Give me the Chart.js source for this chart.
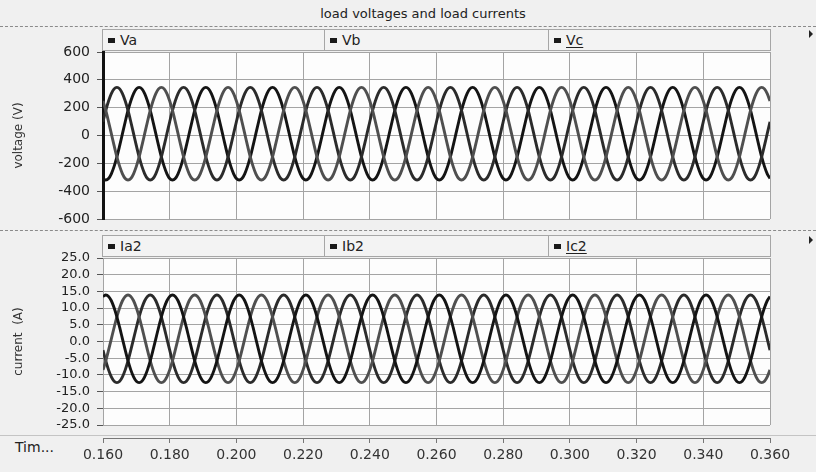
<!DOCTYPE html>
<html>
<head>
    <meta charset="utf-8">
    <title>load voltages and load currents</title>
    <script src="https://cdn.jsdelivr.net/npm/chart.js@4"></script>
    <style>
        body {
            margin: 0;
            background: #f0f0f0;
            font-family: "DejaVu Sans", sans-serif;
            color: #222;
        }
        #scope {
            position: relative;
            width: 816px;
            height: 472px;
            overflow: hidden;
        }
        .abs { position: absolute; }
        .title {
            left: 423px;
            top: 6px;
            transform: translateX(-50%);
            font-size: 13px;
            white-space: nowrap;
        }
        .dash {
            left: 0;
            width: 816px;
            height: 0;
            border-top: 1px dashed #8a8a8a;
        }
        .legend {
            left: 102px;
            width: 667px;
            height: 20px;
            border: 1px solid #a6a6a6;
            background: #f3f3f3;
            display: flex;
            box-sizing: content-box;
        }
        .legend div {
            position: relative;
            flex: 0 0 auto;
            height: 20px;
            border-right: 1px solid #a6a6a6;
            font-size: 14px;
            line-height: 20px;
            padding-left: 17px;
            box-sizing: border-box;
        }
        .legend div:last-child { border-right: none; }
        .legend div::before {
            content: "";
            position: absolute;
            left: 5px;
            top: 8px;
            width: 7px;
            height: 5px;
            background: #1a1a1a;
        }
        .legend u { text-decoration-thickness: 1px; text-underline-offset: 2px; }
        .arrow {
            left: 809px;
            width: 0;
            height: 0;
            border-left: 4px solid #222;
            border-top: 4px solid transparent;
            border-bottom: 4px solid transparent;
        }
        canvas { position: absolute; left: 0; }
    </style>
</head>
<body>
<div id="scope">
    <div class="abs title">load voltages and load currents</div>
    <div class="abs dash" style="top:26px"></div>

    <div class="abs legend" style="top:29px">
        <div style="width:222px">Va</div>
        <div style="width:224px">Vb</div>
        <div style="width:221px"><u>Vc</u></div>
    </div>
    <div class="abs arrow" style="top:30px"></div>
    <canvas id="voltageChart" style="top:44px" width="816" height="184"></canvas>

    <div class="abs dash" style="top:230px"></div>

    <div class="abs legend" style="top:235px">
        <div style="width:222px">Ia2</div>
        <div style="width:224px">Ib2</div>
        <div style="width:221px"><u>Ic2</u></div>
    </div>
    <div class="abs arrow" style="top:236px"></div>
    <canvas id="currentChart" style="top:250px" width="816" height="184"></canvas>

    <div class="abs" style="left:0;top:435px;width:816px;border-top:1px solid #c4c4c4"></div>
    <div class="abs" style="left:15px;top:439px;font-size:14px">Tim...</div>
    <canvas id="timeAxis" style="top:436px" width="816" height="36"></canvas>
</div>

<script>
    // time axis (s)
    const timeStart = 0.16;
    const timeEnd = 0.36;
    const timeStep = 0.02;
    const samplesPerCycle = 24;   // one 50 Hz cycle, 15 deg per sample
    const cycleCount = 10;

    // one recorded cycle, starting at the positive peak
    const voltageCycle = [346, 335, 301, 248, 180, 99, 13, -73, -154, -222, -275, -309,
                          -320, -309, -275, -222, -154, -73, 13, 99, 180, 248, 301, 335];
    const currentCycle = [13.9, 13.5, 12.2, 10.1, 7.4, 4.2, 0.8, -2.6, -5.8, -8.5, -10.6, -11.9,
                          -12.3, -11.9, -10.6, -8.5, -5.8, -2.6, 0.8, 4.2, 7.4, 10.1, 12.2, 13.5];

    // position in the cycle table at t = 0.160 s
    const voltageNames = ['Va', 'Vb', 'Vc'];
    const voltageStart = [3, 19, 11];
    const voltageColors = ['#4f4f4f', '#2b2b2b', '#141414'];

    const currentNames = ['Ia2', 'Ib2', 'Ic2'];
    const currentStart = [23, 15, 7];
    const currentColors = ['#141414', '#4f4f4f', '#2b2b2b'];

    const voltageTicks = { min: -600, max: 600, step: 200 };
    const currentTicks = { min: -25, max: 25, step: 5 };

    const gridColor = '#a4a4a4';
    const tickFont = { family: 'DejaVu Sans', size: 14 };

    function traceFromCycle(cycle, start) {
        const pts = [];
        const dt = timeStep / samplesPerCycle;
        for (let k = 0; k <= samplesPerCycle * cycleCount; k++) {
            pts.push({ x: timeStart + k * dt, y: cycle[(start + k) % samplesPerCycle] });
        }
        return pts;
    }

    // white plot background
    const plotBackground = {
        id: 'plotBackground',
        beforeDraw(chart) {
            const a = chart.chartArea;
            const ctx = chart.ctx;
            ctx.save();
            ctx.fillStyle = '#fdfdfd';
            ctx.fillRect(a.left, a.top, a.right - a.left, a.bottom - a.top);
            ctx.restore();
        }
    };

    function scopePanel(canvasId, names, cycle, starts, colors, yt, yTitle, yBorder, decimals, fontSize) {
        return new Chart(document.getElementById(canvasId), {
            type: 'line',
            data: {
                datasets: names.map((n, i) => ({
                    label: n,
                    data: traceFromCycle(cycle, starts[i]),
                    borderColor: colors[i],
                    borderWidth: 2.9,
                    pointRadius: 0,
                    fill: false,
                    cubicInterpolationMode: 'monotone'
                }))
            },
            options: {
                responsive: false,
                animation: false,
                events: [],
                layout: { autoPadding: false, padding: { left: 0, right: 46, top: 8, bottom: 9 } },
                plugins: { legend: { display: false }, tooltip: { enabled: false } },
                scales: {
                    x: {
                        type: 'linear',
                        min: timeStart,
                        max: timeEnd,
                        ticks: { display: false, stepSize: timeStep },
                        grid: { color: gridColor, drawTicks: false },
                        border: { display: false },
                        afterFit(s) { s.height = 0; s.paddingLeft = 0; s.paddingRight = 0; }
                    },
                    y: {
                        min: yt.min,
                        max: yt.max,
                        ticks: {
                            stepSize: yt.step,
                            autoSkip: false,
                            color: '#222',
                            font: { family: 'DejaVu Sans', size: fontSize, lineHeight: 1 },
                            padding: 7,
                            callback: v => v.toFixed(decimals)
                        },
                        grid: { color: gridColor, tickLength: 6, tickColor: '#555' },
                        border: yBorder,
                        title: {
                            display: true,
                            text: yTitle,
                            color: '#333',
                            font: { family: 'DejaVu Sans', size: 12 },
                            padding: { top: 12, bottom: 0 }
                        },
                        afterFit(s) { s.width = 103; s.paddingTop = 0; s.paddingBottom = 0; }
                    }
                }
            },
            plugins: [plotBackground]
        });
    }

    scopePanel('voltageChart', voltageNames, voltageCycle, voltageStart, voltageColors,
        voltageTicks, 'voltage (V)', { color: '#111', width: 3 }, 0, 14);
    scopePanel('currentChart', currentNames, currentCycle, currentStart, currentColors,
        currentTicks, 'current  (A)', { color: gridColor, width: 1 }, 1, 13);

    // shared time axis under both panels
    new Chart(document.getElementById('timeAxis'), {
        type: 'line',
        data: { datasets: [{ data: [] }] },
        options: {
            responsive: false,
            animation: false,
            events: [],
            layout: { autoPadding: false, padding: { left: 103, right: 46, top: 0, bottom: 0 } },
            plugins: { legend: { display: false }, tooltip: { enabled: false } },
            scales: {
                x: {
                    type: 'linear',
                    min: timeStart,
                    max: timeEnd,
                    ticks: {
                        stepSize: timeStep,
                        color: '#333',
                        font: tickFont,
                        padding: 4,
                        maxRotation: 0,
                        callback: v => v.toFixed(3)
                    },
                    grid: { drawOnChartArea: false, tickLength: 5, tickColor: '#777' },
                    border: { color: '#777', width: 1 },
                    afterFit(s) { s.height = 34; }
                },
                y: { display: false }
            }
        }
    });
</script>
</body>
</html>
